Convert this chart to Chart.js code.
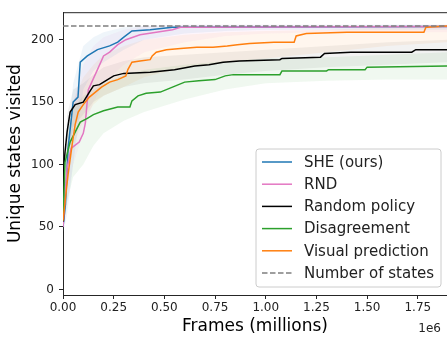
<!DOCTYPE html>
<html>
<head>
<meta charset="utf-8">
<script src="https://cdn.jsdelivr.net/npm/chart.js@4.4.0/dist/chart.umd.min.js"></script>
<style>
  html, body { margin: 0; padding: 0; background: #fff; }
</style>
</head>
<body>
<canvas id="chart" width="447" height="337"></canvas>
<script>
// curves as [frames (millions), unique states]
var sheData = [[0, 50], [0.012, 68], [0.025, 113], [0.05, 150], [0.074, 154], [0.085, 182], [0.12, 187], [0.17, 192], [0.23, 195], [0.27, 198], [0.30, 202], [0.34, 207], [0.43, 208], [0.54, 210], [1.9, 210.5]];
var rndData = [[0, 50], [0.02, 97], [0.04, 113], [0.08, 118], [0.1, 125], [0.11, 133], [0.118, 148], [0.125, 160], [0.17, 176], [0.2, 187], [0.23, 190], [0.27, 196], [0.31, 200], [0.38, 204], [0.46, 206], [0.54, 208], [0.58, 210], [1.9, 210.5]];
var randomData = [[0, 55], [0.002, 94], [0.01, 110], [0.02, 126], [0.035, 142], [0.06, 148], [0.1, 150], [0.13, 158], [0.15, 163], [0.18, 164], [0.22, 168], [0.25, 171], [0.3, 173], [0.43, 174], [0.55, 176], [0.65, 179], [0.72, 180], [0.79, 182], [0.87, 183], [1.07, 184], [1.08, 185], [1.27, 186], [1.29, 189], [1.42, 190], [1.72, 190], [1.74, 192], [1.9, 192]];
var disagreeData = [[0, 55], [0.01, 102], [0.035, 118], [0.06, 126], [0.085, 134], [0.12, 137], [0.15, 140], [0.2, 143], [0.27, 146], [0.33, 146], [0.34, 151], [0.37, 155], [0.41, 157], [0.48, 158], [0.54, 162], [0.6, 166], [0.67, 167], [0.75, 168], [0.8, 171], [0.84, 172], [1.07, 172], [1.08, 175], [1.3, 175], [1.31, 176], [1.49, 176], [1.5, 178], [1.9, 179]];
var visualData = [[0, 55], [0.01, 70], [0.025, 92], [0.045, 116], [0.06, 132], [0.075, 142], [0.1, 148], [0.13, 154], [0.16, 158], [0.19, 162], [0.23, 166], [0.27, 168], [0.31, 171], [0.32, 176], [0.34, 182], [0.38, 183], [0.43, 184], [0.44, 187], [0.46, 190], [0.51, 192], [0.58, 193], [0.66, 194], [0.74, 194], [0.81, 195], [0.86, 196], [0.92, 197], [1.04, 198], [1.14, 198], [1.15, 203], [1.2, 205], [1.4, 206], [1.78, 206], [1.79, 210], [1.9, 211]];
var numStates = 211;

// shaded spread around each curve
var bandX = [0, 0.02, 0.05, 0.1, 0.15, 0.2, 0.3, 0.4, 0.6, 0.8, 1.0, 1.3, 1.6, 1.9];
var sheLo = [45, 60, 100, 160, 175, 182, 192, 200, 205, 207, 208, 208, 208, 208];
var sheHi = [55, 110, 165, 195, 202, 206, 210, 211, 212, 212, 212, 212, 212, 212];
var rndLo = [45, 70, 100, 125, 150, 165, 180, 190, 198, 203, 205, 206, 206, 206];
var rndHi = [55, 110, 150, 180, 195, 202, 208, 211, 212, 212, 212, 212, 212, 212];
var randomLo = [45, 100, 130, 140, 150, 155, 162, 165, 168, 172, 175, 178, 180, 182];
var randomHi = [55, 140, 160, 165, 172, 178, 183, 186, 188, 190, 192, 195, 198, 200];
var disagreeLo = [45, 70, 90, 100, 115, 125, 135, 142, 152, 160, 165, 167, 168, 168];
var disagreeHi = [55, 125, 145, 155, 160, 165, 172, 176, 180, 183, 185, 186, 188, 190];
var visualLo = [45, 80, 115, 135, 148, 155, 162, 170, 178, 182, 185, 190, 195, 198];
var visualHi = [55, 115, 150, 170, 180, 188, 195, 200, 204, 206, 207, 208, 210, 212];

var xTicks = [0, 0.25, 0.5, 0.75, 1.0, 1.25, 1.5, 1.75];
var yTicks = [0, 50, 100, 150, 200];
var legendLabels = ["SHE (ours)", "RND", "Random policy", "Disagreement", "Visual prediction", "Number of states"];
var legendColors = ["#1f77b4", "#e377c2", "#000000", "#2ca02c", "#ff7f0e", "#7f7f7f"];

var toPts = function (arr) {
    return arr.map(function (p) { return {x: p[0], y: p[1]}; });
};
var bandPts = function (ys) {
    return bandX.map(function (x, i) { return {x: x, y: ys[i]}; });
};

var datasets = [];
var addBand = function (lo, hi, color) {
    datasets.push({data: bandPts(lo), borderWidth: 0, pointRadius: 0, fill: false, order: 20});
    datasets.push({data: bandPts(hi), borderWidth: 0, pointRadius: 0, fill: "-1", backgroundColor: color, order: 20});
};
addBand(sheLo, sheHi, "rgba(31,119,180,0.07)");
addBand(rndLo, rndHi, "rgba(227,119,194,0.07)");
addBand(randomLo, randomHi, "rgba(0,0,0,0.05)");
addBand(disagreeLo, disagreeHi, "rgba(44,160,44,0.07)");
addBand(visualLo, visualHi, "rgba(255,127,14,0.07)");

var lines = [sheData, rndData, randomData, disagreeData, visualData];
lines.forEach(function (d, i) {
    datasets.push({
        label: legendLabels[i],
        data: toPts(d),
        borderColor: legendColors[i],
        borderWidth: 1.5,
        pointRadius: 0,
        fill: false,
        tension: 0,
        order: 10 - i
    });
});
datasets.push({
    label: legendLabels[5],
    data: [{x: 0, y: numStates}, {x: 1.9, y: numStates}],
    borderColor: legendColors[5],
    borderWidth: 1.5,
    borderDash: [5.5, 2.5],
    pointRadius: 0,
    fill: false,
    order: 1
});

var framePlugin = {
    id: "frame",
    afterDraw: function (chart) {
        var c = chart.ctx, a = chart.chartArea;
        c.save();
        c.strokeStyle = "#262626";
        c.lineWidth = 1;
        c.beginPath();
        c.moveTo(a.left, a.top + 0.5);
        c.lineTo(a.right, a.top + 0.5);
        c.stroke();
        // offset text of the x axis
        c.fillStyle = "#222";
        c.font = "12px 'DejaVu Sans'";
        c.textAlign = "right";
        c.textBaseline = "alphabetic";
        c.fillText("1e6", 441, 332);
        // legend
        var bx = 256, by = 149, bw = 185, bh = 138, r = 3;
        c.beginPath();
        c.moveTo(bx + r, by);
        c.arcTo(bx + bw, by, bx + bw, by + bh, r);
        c.arcTo(bx + bw, by + bh, bx, by + bh, r);
        c.arcTo(bx, by + bh, bx, by, r);
        c.arcTo(bx, by, bx + bw, by, r);
        c.closePath();
        c.fillStyle = "rgba(255,255,255,0.8)";
        c.fill();
        c.strokeStyle = "#cccccc";
        c.stroke();
        c.font = "15px 'DejaVu Sans'";
        c.textAlign = "left";
        c.textBaseline = "middle";
        legendLabels.forEach(function (lab, i) {
            var y = 162 + i * 22.2;
            c.strokeStyle = legendColors[i];
            c.lineWidth = 1.5;
            c.setLineDash(i === 5 ? [5.5, 2.5] : []);
            c.beginPath();
            c.moveTo(262, y);
            c.lineTo(292, y);
            c.stroke();
            c.setLineDash([]);
            c.fillStyle = "#222";
            c.fillText(lab, 304, y + 1);
        });
        c.restore();
    }
};

var ctx = document.getElementById("chart");
var chart = new Chart(ctx, {
    type: "line",
    data: {datasets: datasets},
    options: {
        responsive: false,
        animation: false,
        events: [],
        layout: {padding: {top: 8, right: 0, left: 0, bottom: 0}},
        plugins: {legend: {display: false}, tooltip: {enabled: false}},
        scales: {
            x: {
                type: "linear",
                min: 0,
                max: 1.894,
                afterBuildTicks: function (s) { s.ticks = xTicks.map(function (v) { return {value: v}; }); },
                afterFit: function (s) { s.height = 42; },
                ticks: {
                    callback: function (v) { return v.toFixed(2); },
                    font: {family: "'DejaVu Sans'", size: 12},
                    color: "#222",
                    padding: 2,
                    maxRotation: 0
                },
                grid: {drawOnChartArea: false, tickLength: 4, color: "#262626"},
                border: {color: "#262626", width: 1},
                title: {display: true, text: "Frames (millions)", font: {family: "'DejaVu Sans'", size: 17}, color: "#000", padding: 0}
            },
            y: {
                type: "linear",
                min: -4.5,
                max: 222,
                afterBuildTicks: function (s) { s.ticks = yTicks.map(function (v) { return {value: v}; }); },
                afterFit: function (s) { s.width = 63; },
                ticks: {
                    font: {family: "'DejaVu Sans'", size: 12},
                    color: "#222",
                    padding: 5
                },
                grid: {drawOnChartArea: false, tickLength: 4, color: "#262626"},
                border: {color: "#262626", width: 1},
                title: {display: true, text: "Unique states visited", font: {family: "'DejaVu Sans'", size: 17}, color: "#000", padding: {top: 5, bottom: 0}}
            }
        }
    },
    plugins: [framePlugin]
});
</script>
</body>
</html>
